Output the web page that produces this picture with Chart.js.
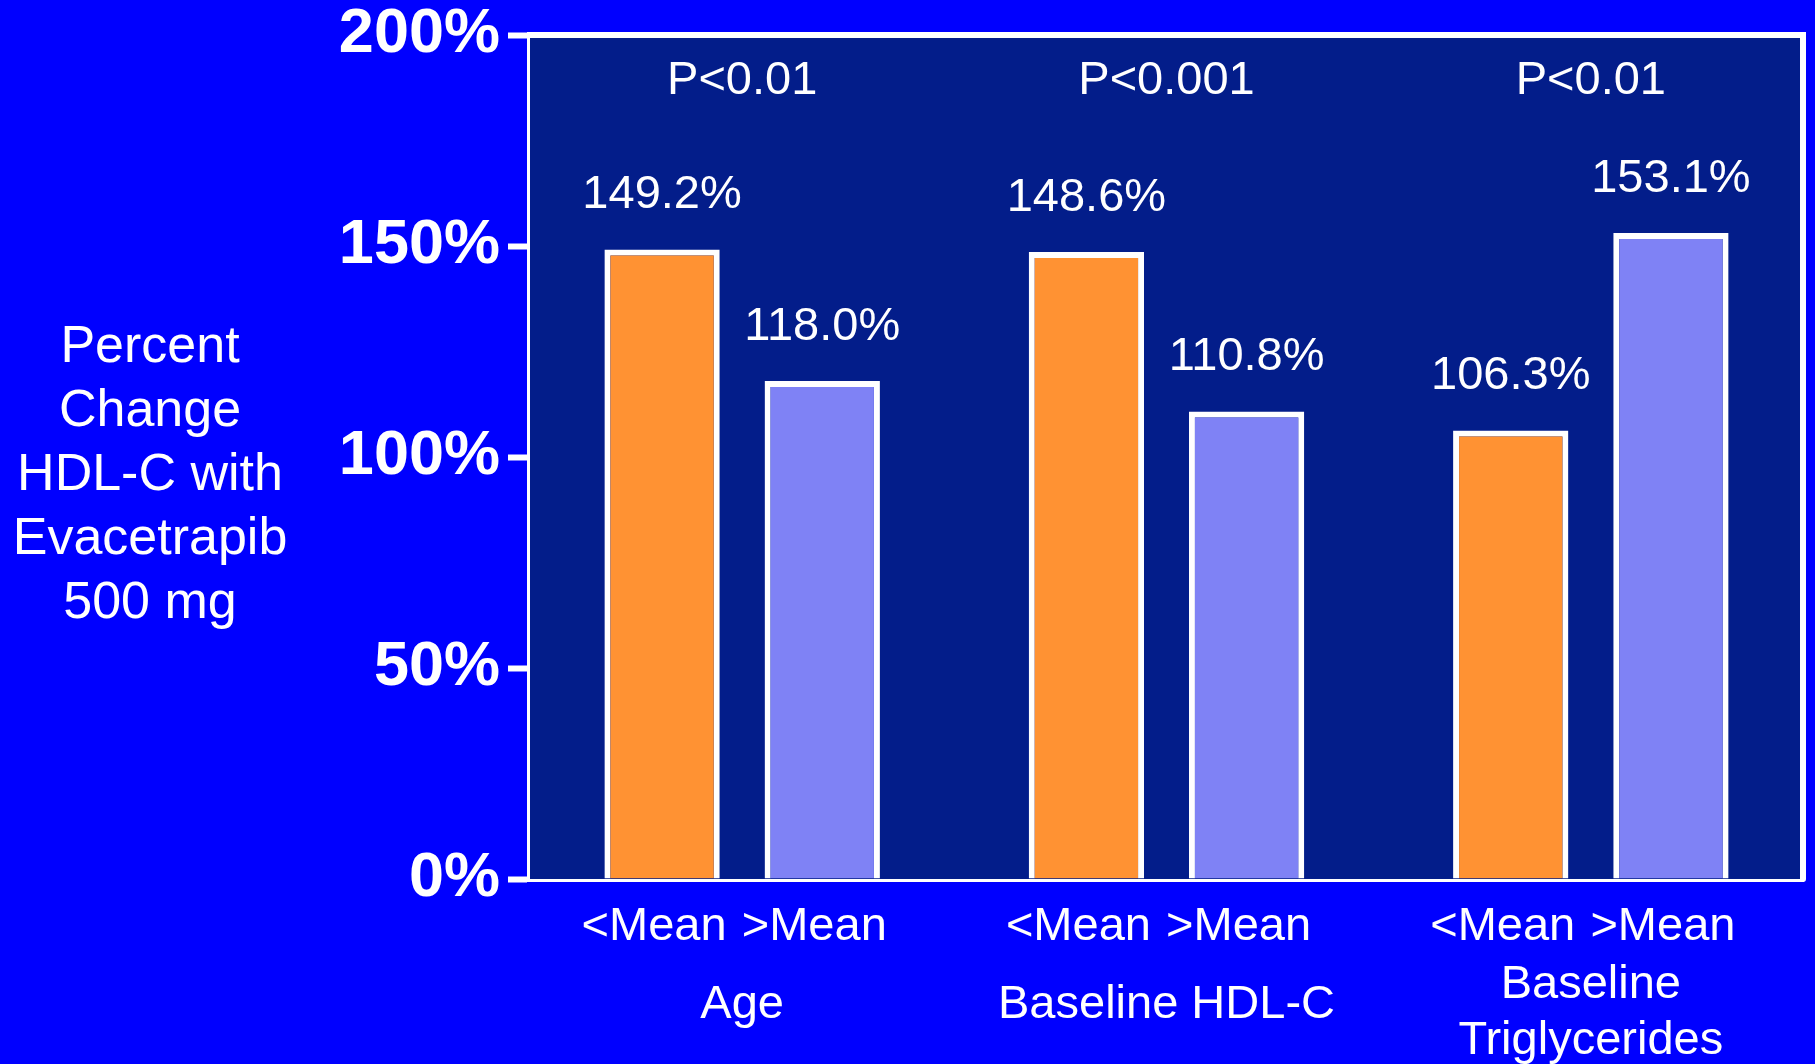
<!DOCTYPE html>
<html>
<head>
<meta charset="utf-8">
<script src="https://cdn.jsdelivr.net/npm/chart.js@4.4.0/dist/chart.umd.min.js"></script>
<style>
    html, body { margin: 0; padding: 0; background: #0000ff; }
    #wrap { width: 1815px; height: 1064px; position: relative; }
</style>
</head>
<body>
<div id="wrap"><canvas id="chart"></canvas></div>
<script>
// Data
const groupLabels = [["Age"], ["Baseline HDL-C"], ["Baseline", "Triglycerides"]];
const subLabels = ["<Mean", ">Mean"];
const belowMean = [149.2, 148.6, 106.3];
const aboveMean = [118.0, 110.8, 153.1];
const pValues = ["P<0.01", "P<0.001", "P<0.01"];
const yTicks = [0, 50, 100, 150, 200];
const yTitle = ["Percent", "Change", "HDL-C with", "Evacetrapib", "500 mg"];

const FONT = "'Liberation Sans', Arial, sans-serif";

// Draws plot background, top/right frame and all the extra text
const decorPlugin = {
    id: "decor",
    beforeDatasetsDraw(chart) {
        const { ctx, chartArea: a } = chart;
        ctx.save();
        ctx.fillStyle = "#031d8a";
        ctx.fillRect(a.left, a.top, a.right - a.left, a.bottom - a.top);
        ctx.restore();
    },
    afterDraw(chart) {
        const { ctx, chartArea: a, scales } = chart;
        ctx.save();
        // frame top + right
        ctx.strokeStyle = "#ffffff";
        ctx.lineWidth = 6;
        ctx.lineCap = "round";
        ctx.beginPath();
        ctx.moveTo(a.left, a.top);
        ctx.lineTo(a.right, a.top);
        ctx.lineTo(a.right, a.bottom);
        ctx.stroke();

        ctx.fillStyle = "#ffffff";
        ctx.textAlign = "center";
        ctx.textBaseline = "middle";

        // value labels above bars, sub labels under them
        ctx.font = "47px " + FONT;
        chart.data.datasets.forEach((ds, di) => {
            const meta = chart.getDatasetMeta(di);
            meta.data.forEach((bar, i) => {
                ctx.fillText(ds.data[i].toFixed(1) + "%", bar.x, bar.y - 54);
                ctx.fillText(subLabels[di], bar.x - 8, a.bottom + 48);
            });
        });

        // p values and group labels
        groupLabels.forEach((lines, i) => {
            const x = scales.x.getPixelForValue(i);
            ctx.fillText(pValues[i], x, a.top + 46);
            lines.forEach((line, li) => {
                const y = lines.length === 1 ? a.bottom + 126 : a.bottom + 106 + li * 56;
                ctx.fillText(line, x, y);
            });
        });

        // y title
        ctx.font = "52px " + FONT;
        yTitle.forEach((line, li) => {
            ctx.fillText(line, 150, 348 + li * 64);
        });
        ctx.restore();
    }
};

new Chart(document.getElementById("chart"), {
    type: "bar",
    data: {
        labels: groupLabels,
        datasets: [
            {
                label: subLabels[0],
                data: belowMean,
                backgroundColor: "#ff9233",
                borderColor: "#ffffff",
                borderWidth: 6,
                borderSkipped: "bottom"
            },
            {
                label: subLabels[1],
                data: aboveMean,
                backgroundColor: "#7f82f5",
                borderColor: "#ffffff",
                borderWidth: 6,
                borderSkipped: "bottom"
            }
        ]
    },
    options: {
        responsive: true,
        maintainAspectRatio: false,
        animation: false,
        categoryPercentage: 0.755,
        barPercentage: 0.72,
        layout: { padding: { top: 35, right: 12, left: 0, bottom: 0 } },
        plugins: {
            legend: { display: false },
            tooltip: { enabled: false }
        },
        scales: {
            x: {
                ticks: { display: false },
                grid: { display: false },
                border: { display: true, color: "#ffffff", width: 6 },
                afterFit: (scale) => { scale.height = 185; }
            },
            y: {
                min: 0,
                max: 200,
                afterBuildTicks: (scale) => { scale.ticks = yTicks.map(v => ({ value: v })); },
                ticks: {
                    color: "#ffffff",
                    padding: 8,
                    font: { family: FONT, size: 63, weight: "bold", lineHeight: 0.8 },
                    callback: (v) => v + "%"
                },
                grid: {
                    drawOnChartArea: false,
                    drawTicks: true,
                    tickLength: 22,
                    tickWidth: 6,
                    tickColor: "#ffffff",
                    color: "#ffffff"
                },
                border: { display: true, color: "#ffffff", width: 6 },
                afterFit: (scale) => { scale.width = 530; }
            }
        }
    },
    plugins: [decorPlugin]
});
</script>
</body>
</html>
